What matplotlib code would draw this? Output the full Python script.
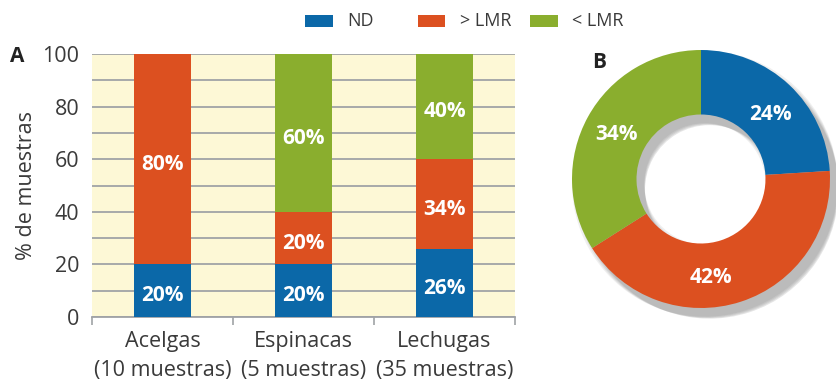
import numpy as np
import matplotlib.pyplot as plt
from matplotlib.patches import Rectangle

plt.rcParams['font.family'] = ['Open Sans', 'DejaVu Sans']

# Panel A: % of samples per vegetable
categories = ["Acelgas\n(10 muestras)", "Espinacas\n(5 muestras)", "Lechugas\n(35 muestras)"]
nd = [20, 20, 26]
over_lmr = [80, 20, 34]
under_lmr = [0, 60, 40]

# Panel B: all samples
pie_labels = ["ND", "> LMR", "< LMR"]
pie_values = [24, 42, 34]

blue = '#0B68A8'
orange = '#DC5020'
green = '#8AAE2E'
grid_col = '#A0A3A6'
text_col = '#3A3A3A'

fig = plt.figure(figsize=(8.36, 3.82), dpi=100)

# ---- A: stacked bars ----
ax = fig.add_axes([92/836, 65/382, 423/836, 263/382])
ax.set_facecolor('#FDF8D6')
x = np.arange(len(categories))
w = 0.4
series = [(nd, blue), (over_lmr, orange), (under_lmr, green)]
bottom = np.zeros(len(categories))
for vals, col in series:
    vals = np.array(vals, dtype=float)
    ax.bar(x, vals, w, bottom=bottom, color=col, zorder=3)
    for xi, b, v in zip(x, bottom, vals):
        if v > 0:
            ax.text(xi, b + v / 2 - 2, f"{v:.0f}%", ha='center', va='center',
                    color='white', fontsize=15, fontweight='bold', zorder=4)
    bottom += vals

ax.set_xlim(-0.5, len(categories) - 0.5)
ax.set_ylim(0, 100)
for yv in range(0, 101, 10):
    ax.axhline(yv, color=grid_col, linewidth=1.3, zorder=1)
for s in ['left', 'right', 'top']:
    ax.spines[s].set_visible(False)
ax.spines['bottom'].set_color(grid_col)
ax.spines['bottom'].set_linewidth(1.3)

ax.set_yticks(range(0, 101, 20))
ax.tick_params(axis='y', length=0, pad=9, labelsize=15.5, labelcolor=text_col)
ax.set_xticks(x)
ax.set_xticklabels(categories, linespacing=1.5)
ax.tick_params(axis='x', length=0, pad=10, labelsize=15.5, labelcolor=text_col)
ax.set_xticks(np.arange(-0.5, len(categories)), minor=True)
ax.tick_params(axis='x', which='minor', length=6, color=grid_col, width=1.2)
ax.set_ylabel("% de muestras", fontsize=15.5, color=text_col, labelpad=4)

fig.text(17/836, 1 - 57/382, "A", fontsize=15, fontweight='bold', color='#222222',
         ha='center', va='center')

# ---- B: donut ----
ax2 = fig.add_axes([(701 - 150)/836, (382 - 179 - 150)/382, 300/836, 300/382])
lim = 150 / 129
colors = [blue, orange, green]

# soft drop shadow
for k, a in enumerate([0.09, 0.10, 0.12, 0.15]):
    off = 0.03 + 0.012 * k
    ax2.pie(pie_values, startangle=90, counterclock=False,
            colors=['#555555'] * 3, radius=1.0 + 0.01 * (3 - k),
            center=(off, -off * 1.25),
            wedgeprops=dict(width=0.5 + 0.02 * (3 - k), linewidth=0, alpha=a))
wedges, _ = ax2.pie(pie_values, startangle=90, counterclock=False, colors=colors,
                    wedgeprops=dict(width=0.5, linewidth=0))

angle_shift = [-3, -12, 0]
for wdg, v, sh in zip(wedges, pie_values, angle_shift):
    mid = np.deg2rad((wdg.theta1 + wdg.theta2) / 2 + sh)
    ax2.text(0.75 * np.cos(mid), 0.75 * np.sin(mid) - 0.02, f"{v}%", ha='center',
             va='center', color='white', fontsize=15, fontweight='bold')
ax2.set_xlim(-lim, lim)
ax2.set_ylim(-lim, lim)
ax2.set_aspect('equal')
ax2.axis('off')

fig.text(599/836, 1 - 62/382, "B", fontsize=15, fontweight='bold', color='#222222',
         ha='center', va='center')

# ---- legend (evenly spaced entries) ----
for i, (c, l) in enumerate(zip(colors, pie_labels)):
    x0 = (305 + 112.5 * i) / 836
    fig.patches.append(Rectangle((x0, 1 - 27/382), 28/836, 12/382, facecolor=c,
                                 edgecolor='none', transform=fig.transFigure))
    fig.text(x0 + 42/836, 1 - 21/382, l, fontsize=13, color=text_col,
             ha='left', va='center')

fig.savefig("out.png", dpi=100)
